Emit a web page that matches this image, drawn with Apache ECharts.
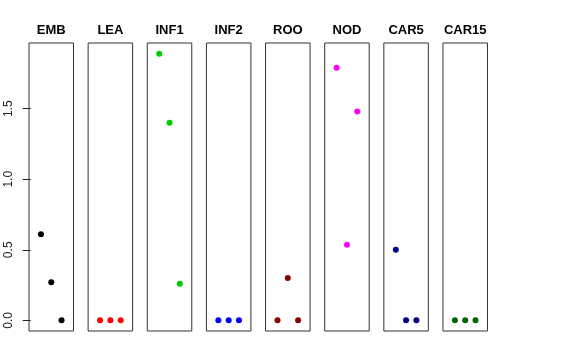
<!DOCTYPE html>
<html>
<head>
<meta charset="utf-8">
<script src="https://cdn.jsdelivr.net/npm/echarts@6/dist/echarts.min.js"></script>
<style>html,body{margin:0;padding:0;background:#fff}#c{width:576px;height:360px}</style>
</head>
<body>
<div id="c"></div>
<script>
const panels = ['EMB','LEA','INF1','INF2','ROO','NOD','CAR5','CAR15'];
const xPos = [1, 2, 3];
const EMB = [0.61, 0.27, 0.00];
const LEA = [0.00, 0.00, 0.00];
const INF1 = [1.89, 1.40, 0.26];
const INF2 = [0.00, 0.00, 0.00];
const ROO = [0.00, 0.30, 0.00];
const NOD = [1.79, 0.535, 1.48];
const CAR5 = [0.50, 0.00, 0.00];
const CAR15 = [0.00, 0.00, 0.00];
const yTicks = [0, 0.5, 1.0, 1.5];

const values = [EMB, LEA, INF1, INF2, ROO, NOD, CAR5, CAR15];
const colors = ['#000000','#FF0000','#00CD00','#0000FF','#8B0000','#FF00FF','#00008B','#006400'];

const yMaxData = Math.max(...values.flat());
const yMinData = 0;
const ySpan = yMaxData - yMinData;
const yMin = yMinData - 0.04 * ySpan, yMax = yMaxData + 0.04 * ySpan;
const xMin = 0 - 0.04 * 4, xMax = 4 + 0.04 * 4;

const FONT = 'Liberation Sans, Arial, Helvetica, sans-serif';
const gLeft0 = 29, gStep = 59.14, gW = 44.5, gTop = 43, gH = 288;

const grid = [], xAxis = [], yAxis = [], series = [], title = [];
panels.forEach((name, i) => {
  const l = gLeft0 + i * gStep;
  grid.push({left: l, top: gTop, width: gW, height: gH, show: true, borderColor: '#333', borderWidth: 1, backgroundColor: 'transparent'});
  xAxis.push({type: 'value', gridIndex: i, min: xMin, max: xMax, show: false});
  yAxis.push({
    type: 'value', gridIndex: i, min: yMin, max: yMax,
    show: i === 0,
    splitLine: {show: false},
    axisLine: {show: false},
    axisTick: {show: i === 0, length: 8, customValues: yTicks, lineStyle: {color: '#222'}},
    axisLabel: {show: i === 0, customValues: yTicks, rotate: 90, margin: 14, fontSize: 12,
      fontFamily: FONT, color: '#222', formatter: v => v.toFixed(1)}
  });
  series.push({
    type: 'scatter', xAxisIndex: i, yAxisIndex: i, symbol: 'circle', symbolSize: 6,
    itemStyle: {color: colors[i], opacity: 1},
    data: xPos.map((x, k) => [x, values[i][k]])
  });
  title.push({text: name, left: l + gW / 2, top: 24, textAlign: 'center', padding: 0,
    textStyle: {fontFamily: FONT, fontSize: 13, fontWeight: 'bold', color: '#000'}});
});

const chart = echarts.init(document.getElementById('c'), null, {renderer: 'canvas'});
chart.setOption({animation: false, backgroundColor: '#fff', title, grid, xAxis, yAxis, series});
</script>
</body>
</html>
